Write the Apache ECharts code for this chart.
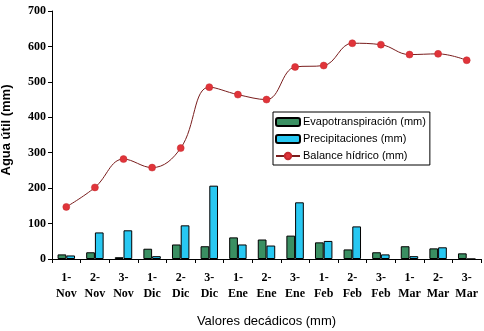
<!DOCTYPE html>
<html><head><meta charset="utf-8">
<script src="https://cdn.jsdelivr.net/npm/echarts@6/dist/echarts.min.js"></script>
<style>html,body{margin:0;padding:0;background:#fff}#c{width:484px;height:331px}</style>
</head><body><div id="c"></div>
<script>
const categories = ['1-\nNov','2-\nNov','3-\nNov','1-\nDic','2-\nDic','3-\nDic','1-\nEne','2-\nEne','3-\nEne','1-\nFeb','2-\nFeb','3-\nFeb','1-\nMar','2-\nMar','3-\nMar'];
const evapotranspiracion = [13,19,5,29,41,36,61,55,66,47,27,19,36,30,16];
const precipitaciones = [10,75,81,8,95,207,41,38,160,51,92,13,8,33,0];
const balance = [147,202,282,258,313,485,464,450,542,546,609,605,577,579,561];
const yTicks = {min:0, max:700, interval:100};

const chart = echarts.init(document.getElementById('c'));
chart.setOption({
  animation:false,
  backgroundColor:'#fff',
  grid:{left:52,right:3,top:11,bottom:72,containLabel:false,outerBoundsMode:'none'},
  legend:{
    orient:'vertical', left:273, top:112,
    backgroundColor:'#fff', borderColor:'#000', borderWidth:1,
    padding:[4,4,3,2], itemGap:5, itemWidth:24, itemHeight:8,
    textStyle:{fontFamily:'Liberation Sans, Arial', fontSize:11, color:'#000', lineHeight:12, padding:[0,0,0,-2]},
    data:[
      {name:'Evapotranspiración (mm)'},
      {name:'Precipitaciones (mm)'},
      {name:'Balance hídrico (mm)'}
    ]
  },
  xAxis:{
    type:'category', data:categories,
    name:'Valores decádicos (mm)', nameLocation:'middle', nameGap:56,
    nameTextStyle:{fontFamily:'Liberation Sans, Arial', fontSize:13, color:'#000'},
    axisLine:{lineStyle:{color:'#000',width:1}},
    axisTick:{show:true, length:4, lineStyle:{color:'#000'}},
    axisLabel:{interval:0, margin:11, fontFamily:'Liberation Serif, Times New Roman', fontWeight:'bold', fontSize:12, color:'#000', lineHeight:16}
  },
  yAxis:{
    type:'value', min:yTicks.min, max:yTicks.max, interval:yTicks.interval,
    name:'Agua útil (mm)', nameLocation:'middle', nameGap:39, nameRotate:90,
    nameTextStyle:{fontFamily:'Liberation Sans, Arial', fontWeight:'bold', fontSize:13, color:'#000', padding:[0,0,0,10]},
    splitLine:{show:false},
    axisLine:{show:true, lineStyle:{color:'#000',width:1}},
    axisTick:{show:true, length:4, lineStyle:{color:'#000'}},
    axisLabel:{margin:6, fontFamily:'Liberation Serif, Times New Roman', fontWeight:'bold', fontSize:12, color:'#000'}
  },
  series:[
    {name:'Evapotranspiración (mm)', type:'bar', data:evapotranspiracion, barGap:'0%', barCategoryGap:'39%',
     itemStyle:{color:'#3a8f62', borderColor:'#000', borderWidth:1}},
    {name:'Precipitaciones (mm)', type:'bar', data:precipitaciones,
     itemStyle:{color:'#28c8f2', borderColor:'#000', borderWidth:1}},
    {name:'Balance hídrico (mm)', type:'line', data:balance, smooth:0.4,
     symbol:'circle', symbolSize:7,
     lineStyle:{color:'#7a1d1d', width:1},
     itemStyle:{color:'#e0343a', borderColor:'#c42a2f', borderWidth:0.5}}
  ]
});
</script></body></html>
